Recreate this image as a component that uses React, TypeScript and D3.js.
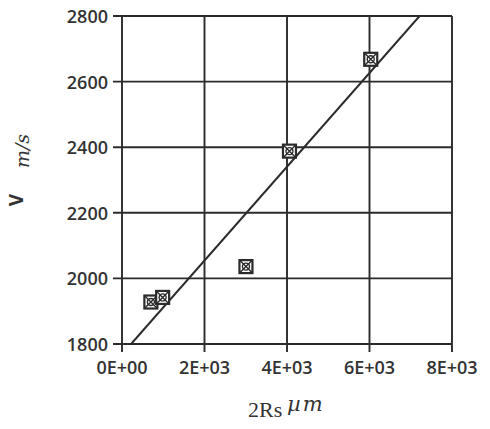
import { useEffect, useRef } from "react";
import * as d3 from "d3";

// measured points (2Rs in µm, V in m/s)
const sizeUm = [700, 985, 3005, 4060, 6030];
const velocity = [1928, 1942, 2036, 2388, 2668];
// straight line fit drawn through the points
const fitX = [220, 7215];
const fitY = [1800, 2800];
const xTicks = [0, 2000, 4000, 6000, 8000];
const xTickLabels = ["0E+00", "2E+03", "4E+03", "6E+03", "8E+03"];
const yTicks = [1800, 2000, 2200, 2400, 2600, 2800];

export default function App() {
  let ref = useRef<SVGSVGElement>(null);

  useEffect(() => {
    const W = 490;
    const H = 429;
    const margin = { top: 16, right: 38, bottom: 85, left: 122 };
    const ink = "#2b2b2b";
    const font = "'Open Sans', sans-serif";

    const svg = d3.select(ref.current);
    svg.selectAll("*").remove();

    const x = d3
      .scaleLinear()
      .domain([0, 8000])
      .range([margin.left, W - margin.right]);
    const y = d3
      .scaleLinear()
      .domain([1800, 2800])
      .range([H - margin.bottom, margin.top]);

    const g = svg.append("g");

    // grid
    g.selectAll(".vgrid")
      .data(xTicks)
      .enter()
      .append("line")
      .attr("x1", (d) => x(d))
      .attr("x2", (d) => x(d))
      .attr("y1", y(2800))
      .attr("y2", y(1800) + 8)
      .attr("stroke", ink)
      .attr("stroke-width", 1.9);

    g.selectAll(".hgrid")
      .data(yTicks)
      .enter()
      .append("line")
      .attr("x1", x(0) - 9)
      .attr("x2", x(8000))
      .attr("y1", (d) => y(d))
      .attr("y2", (d) => y(d))
      .attr("stroke", ink)
      .attr("stroke-width", 1.9);

    // tick labels
    g.selectAll(".ylab")
      .data(yTicks)
      .enter()
      .append("text")
      .attr("x", x(0) - 14)
      .attr("y", (d) => y(d) + 7)
      .attr("text-anchor", "end")
      .style("font-family", font)
      .style("font-size", "18px")
      .style("font-weight", 600)
      .style("fill", "#333")
      .text((d) => d);

    g.selectAll(".xlab")
      .data(xTicks)
      .enter()
      .append("text")
      .attr("x", (d) => x(d))
      .attr("y", y(1800) + 30)
      .attr("text-anchor", "middle")
      .style("font-family", font)
      .style("font-size", "18px")
      .style("font-weight", 600)
      .style("fill", "#333")
      .text((d, i) => xTickLabels[i]);

    // fit line
    const line = d3
      .line<number>()
      .x((d) => x(d))
      .y((d, i) => y(fitY[i]));
    g.append("path")
      .attr("d", line(fitX))
      .attr("fill", "none")
      .attr("stroke", ink)
      .attr("stroke-width", 1.9);

    // markers: box with cross and circle
    const pts = sizeUm.map((s, i) => ({ s: s, v: velocity[i] }));
    const m = g
      .selectAll(".pt")
      .data(pts)
      .enter()
      .append("g")
      .attr("transform", (d) => `translate(${x(d.s)},${y(d.v)})`);
    m.append("rect")
      .attr("x", -6.5)
      .attr("y", -6.5)
      .attr("width", 13)
      .attr("height", 13)
      .attr("fill", "#fff")
      .attr("stroke", ink)
      .attr("stroke-width", 2.2);
    m.append("path")
      .attr("d", "M-6,-6L6,6M-6,6L6,-6")
      .attr("stroke", ink)
      .attr("stroke-width", 1.4);
    m.append("circle")
      .attr("r", 3.5)
      .attr("fill", "none")
      .attr("stroke", ink)
      .attr("stroke-width", 1.4);

    // axis titles
    svg
      .append("text")
      .attr("transform", "translate(23,200) rotate(-90)")
      .attr("text-anchor", "middle")
      .style("font-family", font)
      .style("font-size", "19px")
      .style("font-weight", 700)
      .style("fill", "#333")
      .text("V");
    svg
      .append("text")
      .attr("transform", "translate(29,151) rotate(-90)")
      .attr("text-anchor", "middle")
      .style("font-family", "'DejaVu Serif', serif")
      .style("font-style", "italic")
      .style("font-size", "19px")
      .style("fill", "#333")
      .text("m/s");

    svg
      .append("text")
      .attr("x", 248)
      .attr("y", 417)
      .style("font-family", "'Liberation Serif', serif")
      .style("font-size", "22px")
      .style("fill", "#333")
      .text("2Rs");
    svg
      .append("text")
      .attr("x", 287)
      .attr("y", 411)
      .style("font-family", "'DejaVu Serif', serif")
      .style("font-style", "italic")
      .style("font-size", "21px")
      .style("letter-spacing", "2px")
      .style("fill", "#333")
      .text("µm");
  }, []);

  return (
    <svg
      ref={ref}
      width={490}
      height={429}
      style={{ position: "absolute", left: 0, top: 0, background: "#fff" }}
    />
  );
}
